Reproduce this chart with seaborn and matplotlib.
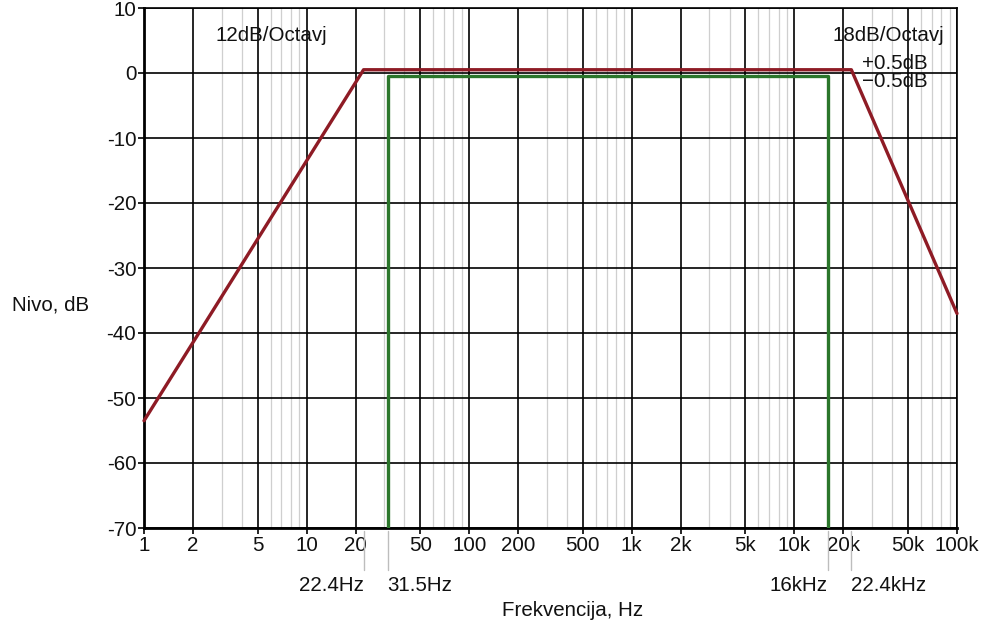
import matplotlib
matplotlib.use("Agg")
import matplotlib.pyplot as plt
import matplotlib.transforms as mtransforms
from matplotlib.ticker import FixedLocator, FixedFormatter, NullLocator
import numpy as np
import pandas as pd
import seaborn as sns

# Tolerance mask: upper limit (red) and lower limit (green)
upper_freq = [1, 22.4, 22400, 100000]
upper_db = [-53.5, 0.5, 0.5, -37.0]
lower_freq = [31.5, 31.5, 16000, 16000]
lower_db = [-70, -0.5, -0.5, -70]

# Axis ticks
x_major = [1, 2, 5, 10, 20, 50, 100, 200, 500, 1000, 2000, 5000, 10000, 20000, 50000, 100000]
x_major_labels = ["1", "2", "5", "10", "20", "50", "100", "200", "500", "1k", "2k", "5k",
                  "10k", "20k", "50k", "100k"]
y_ticks = [10, 0, -10, -20, -30, -40, -50, -60, -70]

# Corner frequencies called out under the axis
corner_freq = [22.4, 31.5, 16000, 22400]
corner_labels = ["22.4Hz", "31.5Hz", "16kHz", "22.4kHz"]
corner_align = ["right", "left", "right", "left"]

FS = 14.8

sns.set_theme(style="white")
plt.rcParams["font.family"] = ["Liberation Sans", "DejaVu Sans"]
plt.rcParams["font.size"] = FS

fig = plt.figure(figsize=(9.86, 6.21), dpi=100)
ax = fig.add_axes([144 / 986, 1 - 528 / 621, (957 - 144) / 986, (528 - 8) / 621])

ax.set_xscale("log")
ax.set_xlim(1, 100000)
ax.set_ylim(-70, 10)

# Minor grid at 3,4,6,7,8,9 of each decade
minor = []
for dec in range(5):
    for m in (3, 4, 6, 7, 8, 9):
        minor.append(m * 10 ** dec)
for f in minor:
    ax.axvline(f, color="#cfcfcf", lw=0.9, zorder=1)
for f in x_major:
    ax.axvline(f, color="black", lw=1.2, zorder=2)
for y in y_ticks:
    ax.axhline(y, color="black", lw=1.2, zorder=2)

upper = pd.DataFrame({"freq": upper_freq, "db": upper_db})
lower = pd.DataFrame({"freq": lower_freq, "db": lower_db})
sns.lineplot(data=upper, x="freq", y="db", sort=False, estimator=None, color="#8e1b25",
             lw=2.4, ax=ax, zorder=4, clip_on=False)
sns.lineplot(data=lower, x="freq", y="db", sort=False, estimator=None, color="#2b762b",
             lw=2.4, ax=ax, zorder=3)

ax.xaxis.set_major_locator(FixedLocator(x_major))
ax.xaxis.set_major_formatter(FixedFormatter(x_major_labels))
ax.xaxis.set_minor_locator(NullLocator())
ax.set_yticks(y_ticks)
ax.set_yticklabels([str(v) for v in y_ticks])
ax.tick_params(axis="both", which="major", direction="out", length=4, width=1.2,
               color="black", labelsize=FS, labelcolor="#111111", pad=1.5,
               bottom=True, left=True)
ax.set_xlabel("")
ax.set_ylabel("")

for s in ax.spines.values():
    s.set_color("black")
    s.set_linewidth(1.2)
ax.spines["left"].set_linewidth(2.0)
ax.spines["bottom"].set_linewidth(2.0)

# Slope and tolerance annotations
ax.text(6.1, 6.1, "12dB/Octavj", ha="center", va="center_baseline", color="#111111")
ax.text(38000, 6.1, "18dB/Octavj", ha="center", va="center_baseline", color="#111111")
ax.text(66000, 1.7, "+0.5dB", ha="right", va="center_baseline", color="#111111")
ax.text(66000, -1.0, "\u22120.5dB", ha="right", va="center_baseline", color="#111111")

# Corner frequency callouts below the axis
trans = mtransforms.blended_transform_factory(ax.transData, ax.transAxes)
for f, lab, ha in zip(corner_freq, corner_labels, corner_align):
    ax.plot([f, f], [-0.005, -0.08], transform=trans, color="#bdbdbd", lw=1.0,
            clip_on=False, zorder=1)
    ax.text(f, -0.106, lab, transform=trans, ha=ha, va="center_baseline",
            color="#111111")

fig.text(573 / 986, 1 - 608 / 621, "Frekvencija, Hz", ha="center", va="center_baseline",
         color="#111111")
fig.text(51 / 986, 1 - 303 / 621, "Nivo, dB", ha="center", va="center_baseline",
         color="#111111")

fig.savefig("out.png", dpi=100, facecolor="white")
